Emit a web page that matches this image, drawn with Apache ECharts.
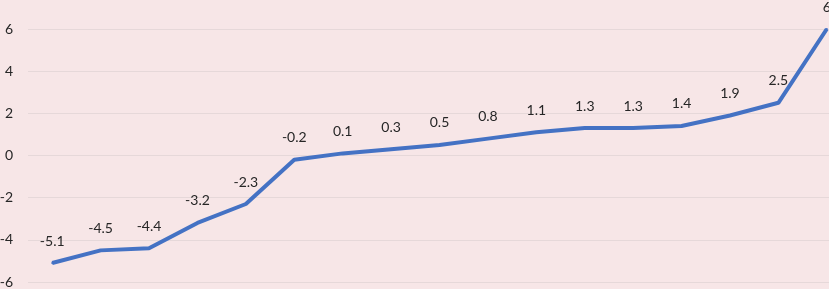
<!DOCTYPE html>
<html><head><meta charset="utf-8">
<script src="https://cdn.jsdelivr.net/npm/echarts@6/dist/echarts.min.js"></script>
<style>html,body{margin:0;padding:0;background:#f7e6e7}#c{width:829px;height:289px}</style>
</head><body><div id="c"></div>
<script>
const categories = ['1','2','3','4','5','6','7','8','9','10','11','12','13','14','15','16','17'];
const values = [-5.1,-4.5,-4.4,-3.2,-2.3,-0.2,0.1,0.3,0.5,0.8,1.1,1.3,1.3,1.4,1.9,2.5,6];
const yTicks = {min:-6,max:6,interval:2};
const chart = echarts.init(document.getElementById('c'));
chart.setOption({
  backgroundColor:'#f7e6e7',
  animation:false,
  grid:{left:28,right:-22,top:29,bottom:7,containLabel:false,outerBoundsMode:'none'},
  xAxis:{type:'category',data:categories,boundaryGap:true,show:false},
  yAxis:{type:'value',min:yTicks.min,max:yTicks.max,interval:yTicks.interval,
    axisLine:{show:false},axisTick:{show:false},
    axisLabel:{margin:15,color:'#262626',fontFamily:'Lato',fontSize:14},
    splitLine:{lineStyle:{color:'#e6d8d9',width:1}}},
  series:[{type:'line',data:values,symbol:'circle',symbolSize:2,showSymbol:true,
    itemStyle:{color:'#4472c4'},
    lineStyle:{color:'#4472c4',width:4},
    label:{show:true,position:'top',distance:14,color:'#262626',fontFamily:'Lato',fontSize:14}}]
});
</script></body></html>
